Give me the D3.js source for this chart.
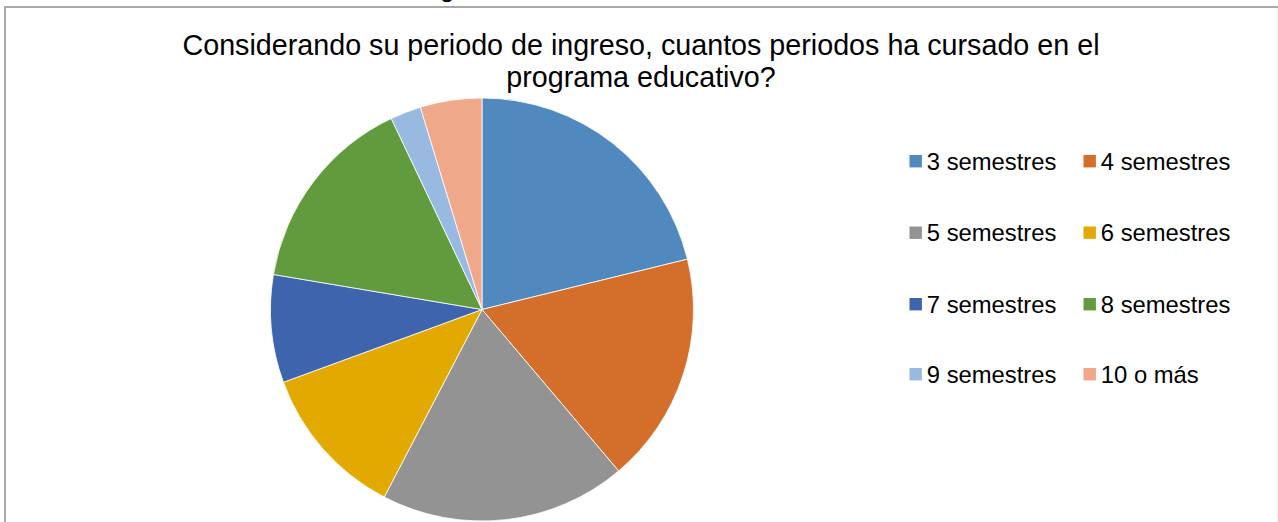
<!DOCTYPE html>
<html><head><meta charset="utf-8">
<script src="https://cdn.jsdelivr.net/npm/d3@7"></script>
<style>html,body{margin:0;padding:0;background:#fff;overflow:hidden}</style>
</head><body>
<script>
const categories = ["3 semestres","4 semestres","5 semestres","6 semestres","7 semestres","8 semestres","9 semestres","10 o más"];
const values = [18, 15, 16, 10, 7, 13, 2, 4];
const colors = ["#4f89bd","#d46e2b","#939393","#e2aa00","#3d64ad","#629b3e","#98b9e0","#f0a88a"];
const titleLines = ["Considerando su periodo de ingreso, cuantos periodos ha cursado en el","programa educativo?"];

const W = 1278, H = 522;
const svg = d3.select("body").append("svg").attr("width", W).attr("height", H);
const font = "'Liberation Sans', Arial, sans-serif";

// frame
svg.append("line").attr("x1",5).attr("x2",1278).attr("y1",7).attr("y2",7).attr("stroke","#a9a9a9").attr("stroke-width",2);
svg.append("line").attr("x1",5).attr("x2",5).attr("y1",6).attr("y2",H).attr("stroke","#a9a9a9").attr("stroke-width",2);
svg.append("line").attr("x1",1277.5).attr("x2",1277.5).attr("y1",8).attr("y2",H).attr("stroke","#eeeeee").attr("stroke-width",1);

// cut-off glyph from a text above the frame
svg.append("text").attr("x",440).attr("y",-3).attr("font-family",font).attr("font-size",26).attr("fill","#000").text("g");

// title
const t = svg.append("text").attr("font-family",font).attr("font-size",28.7).attr("fill","#000").attr("text-anchor","middle");
t.append("tspan").attr("x",641).attr("y",55).text(titleLines[0]);
t.append("tspan").attr("x",641).attr("y",87).text(titleLines[1]);

// pie
const cx = 482, cy = 309.5, r = 211.5;
const pie = d3.pie().sort(null).value(d => d)(values);
const arc = d3.arc().innerRadius(0).outerRadius(r);
const color = d3.scaleOrdinal().domain(categories).range(colors);
svg.append("g").attr("transform",`translate(${cx},${cy})`)
  .selectAll("path").data(pie).join("path")
  .attr("d", arc)
  .attr("fill", (d,i) => color(categories[i]))
  .attr("stroke","#fff").attr("stroke-width",0.8);

// legend
const colX = [909.5, 1083.5];
const rowY = [169.5, 241, 312.5, 382.5];
const lg = svg.append("g");
categories.forEach((c,i) => {
  const col = i % 2, row = Math.floor(i/2);
  const g = lg.append("g").attr("transform",`translate(${colX[col]},${rowY[row]})`);
  g.append("rect").attr("x",0).attr("y",-14.5).attr("width",12.4).attr("height",12.4).attr("fill",color(c));
  g.append("text").attr("x",17.3).attr("y",0).attr("font-family",font).attr("font-size",23.8).attr("fill","#000").text(c);
});
</script>
</body></html>
